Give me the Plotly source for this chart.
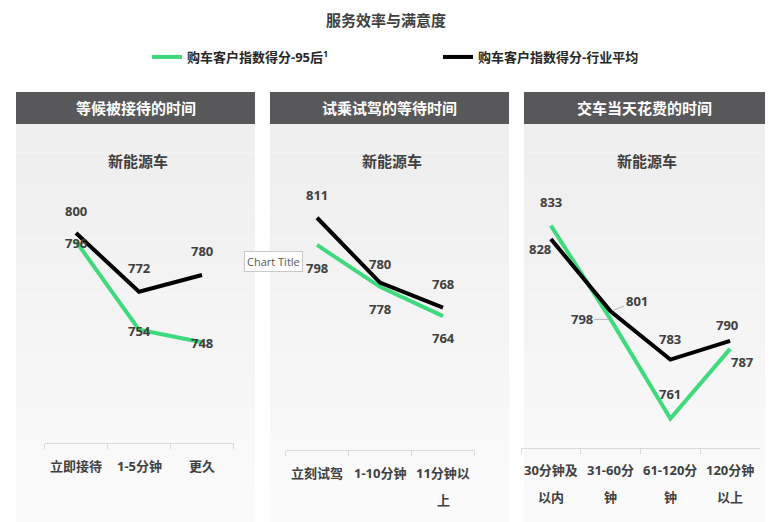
import plotly.graph_objects as go

# ---- data ----
title = "服务效率与满意度"
series_names = ["购车客户指数得分-95后<sup>1</sup>", "购车客户指数得分-行业平均"]
panel_titles = ["等候被接待的时间", "试乘试驾的等待时间", "交车当天花费的时间"]
subtitle = "新能源车"

cats1 = ["立即接待", "1-5分钟", "更久"]
gen95_1 = [796, 754, 748]
avg_1 = [800, 772, 780]

cats2 = ["立刻试驾", "1-10分钟", "11分钟以<br>上"]
gen95_2 = [798, 778, 764]
avg_2 = [811, 780, 768]

cats3 = ["30分钟及<br>以内", "31-60分<br>钟", "61-120分<br>钟", "120分钟<br>以上"]
gen95_3 = [833, 798, 761, 787]
avg_3 = [828, 801, 783, 790]

# ---- style ----
# the page body has an 8px margin, so the figure is shrunk by 8px and
# every reference pixel position is shifted back by 8
OFF = 8
W, H = 778 - OFF, 522 - OFF
GREEN = "#3fda7e"
BLACK = "#000000"
TXT = "#404040"
FONT = "Open Sans, Noto Sans CJK SC, sans-serif"

def fx(px):
    return (px - OFF) / W

def fy(py):
    return 1 - (py - OFF) / H

# label offsets are (dx, dy) in px, dy positive = up
panels = [
    dict(cats=cats1, g=gen95_1, b=avg_1, left=16, right=255, xdom=(44.5, 233.5), ydom=(443, 170), yr=(700, 830),
         goff=[(0, -2), (0, -1), (0, -1)], boff=[(0, 22), (0, 24), (0, 24)], lab=(-23, -50)),
    dict(cats=cats2, g=gen95_2, b=avg_2, left=270, right=509, xdom=(285.5, 474.5), ydom=(450, 178), yr=(700, 830),
         goff=[(0, -23), (0, -22), (0, -22)], boff=[(0, 23), (0, 19), (0, 24)], lab=(-23, -50)),
    dict(cats=cats3, g=gen95_3, b=avg_3, left=524, right=765, xdom=(521, 760), ydom=(448, 180), yr=(750, 850),
         goff=[(0, 24), ("arrow", -29, 0), (0, 25), (12, -13)], boff=[(-11, -10), ("arrow", 26, 10), (0, 21), (-3, 16)],
         lab=(-22, -49)),
]

fig = go.Figure()
shapes = []
annots = []

def label(**kw):
    kw.setdefault("xanchor", "center")
    kw.setdefault("yanchor", "middle")
    annots.append(kw)

# panel backgrounds and headers
for p in panels:
    top, bot, n = 124, 522, 14
    for i in range(n):
        y0 = top + (bot - top) * i / n
        y1 = top + (bot - top) * (i + 1) / n
        c = int(239 + 12 * i / (n - 1))
        shapes.append(dict(type="rect", xref="paper", yref="paper", x0=fx(p["left"]), x1=fx(p["right"]),
                           y0=fy(y1), y1=fy(y0), fillcolor=f"rgb({c},{c},{c})", line_width=0, layer="below"))
    shapes.append(dict(type="rect", xref="paper", yref="paper", x0=fx(p["left"]), x1=fx(p["right"]),
                       y0=fy(124), y1=fy(92), fillcolor="#58585a", line_width=0, layer="below"))

for k, p in enumerate(panels):
    sfx = "" if k == 0 else str(k + 1)
    xa, ya = "x" + sfx, "y" + sfx
    keys = [c.replace("<br>", "") for c in p["cats"]]
    fig.add_trace(go.Scatter(x=keys, y=p["g"], mode="lines", line=dict(color=GREEN, width=4),
                             name=series_names[0], showlegend=(k == 0), xaxis=xa, yaxis=ya))
    fig.add_trace(go.Scatter(x=keys, y=p["b"], mode="lines", line=dict(color=BLACK, width=4),
                             name=series_names[1], showlegend=(k == 0), xaxis=xa, yaxis=ya))
    fig.update_layout(**{
        "xaxis" + sfx: dict(domain=[fx(p["xdom"][0]), fx(p["xdom"][1])], type="category",
                            range=[-0.5, len(keys) - 0.5], showline=True, linecolor="#d9d9d9", linewidth=1,
                            ticks="outside", tickson="boundaries", ticklen=5, tickcolor="#d9d9d9",
                            showticklabels=False, showgrid=False, zeroline=False, anchor=ya, fixedrange=True),
        "yaxis" + sfx: dict(domain=[fy(p["ydom"][0]), fy(p["ydom"][1])], range=list(p["yr"]), visible=False,
                            anchor=xa, fixedrange=True),
    })
    # header + subtitle
    cx = (p["left"] + p["right"]) / 2
    label(xref="paper", yref="paper", x=fx(cx), y=fy(108), text=panel_titles[k], showarrow=False,
          font=dict(family=FONT, size=15, color="white", weight="bold"))
    label(xref="paper", yref="paper", x=fx(cx + 2), y=fy(161), text=subtitle, showarrow=False,
          font=dict(family=FONT, size=15, color=TXT, weight="bold"))
    # category labels
    for key, c in zip(keys, p["cats"]):
        for j, line in enumerate(c.split("<br>")):
            label(xref=xa, yref=ya + " domain", x=key, y=0, yshift=p["lab"][j], text=line,
                  showarrow=False, font=dict(family=FONT, size=13, color=TXT, weight="bold"))
    # data labels
    for vals, offs in ((p["g"], p["goff"]), (p["b"], p["boff"])):
        for key, v, off in zip(keys, vals, offs):
            a = dict(xref=xa, yref=ya, x=key, y=v, text=str(v),
                     font=dict(family=FONT, size=13, color=TXT, weight="bold"))
            if off[0] == "arrow":
                a.update(showarrow=True, ax=off[1], ay=-off[2], axref="pixel", ayref="pixel", arrowhead=0,
                         arrowwidth=0.8, arrowcolor="#a6a6a6", standoff=2)
            else:
                a.update(showarrow=False, xshift=off[0], yshift=off[1])
            label(**a)

# main title
label(xref="paper", yref="paper", x=fx(386), y=fy(20), text=title, showarrow=False,
      font=dict(family=FONT, size=15, color=TXT, weight="bold"))
# stray tooltip from the source screenshot
label(xref="paper", yref="paper", x=fx(273), y=fy(261), text="Chart Title", showarrow=False,
      bgcolor="white", bordercolor="#c8c8c8", borderwidth=1, borderpad=2,
      font=dict(family=FONT, size=11, color="#595959"))

fig.update_layout(
    width=W, height=H, margin=dict(l=0, r=0, t=0, b=0),
    paper_bgcolor="white", plot_bgcolor="rgba(0,0,0,0)",
    shapes=shapes, annotations=annots,
    showlegend=True,
    legend=dict(orientation="h", x=fx(147), y=fy(57), xanchor="left", yanchor="middle",
                entrywidth=246, bgcolor="rgba(0,0,0,0)",
                font=dict(family=FONT, size=13, color="#262626", weight="bold")),
)

fig.write_html("out.html")
